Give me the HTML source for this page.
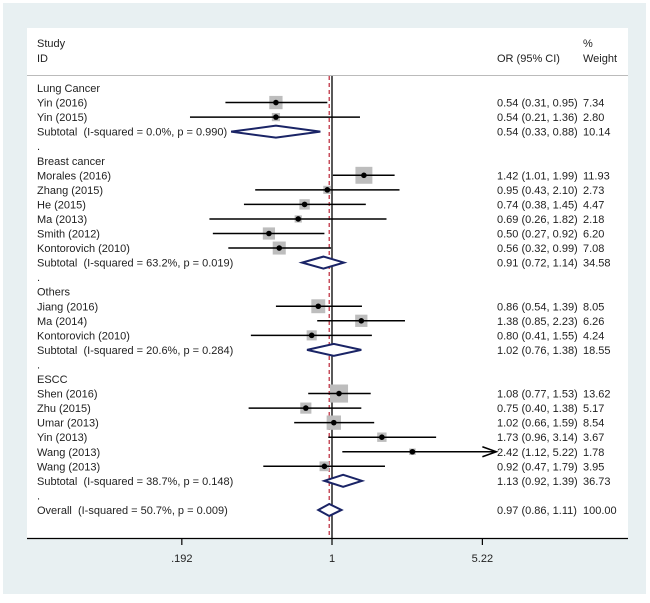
<!DOCTYPE html>
<html><head><meta charset="utf-8"><style>
body{margin:0;background:#fff;}
svg text{font-family:"Liberation Sans",Arial,sans-serif;font-size:11px;fill:#222;white-space:pre;}
</style></head><body>
<svg id="chart" width="650" height="598" xmlns="http://www.w3.org/2000/svg" xml:space="preserve">
<rect x="3" y="3" width="643" height="591" fill="#e8f0f2"/>
<rect x="27" y="28" width="601" height="510" fill="#fff"/>
<line x1="27" y1="75.5" x2="628" y2="75.5" stroke="#bbb" stroke-width="1"/>
<text x="37" y="47">Study</text>
<text x="37" y="62">ID</text>
<text x="497" y="62">OR (95% CI)</text>
<text x="583" y="47">%</text>
<text x="583" y="62">Weight</text>
<g id="rows"></g>
<line x1="27" y1="538.5" x2="628" y2="538.5" stroke="#000" stroke-width="1.3"/>
<g id="ticks"></g>
</svg>
<script>
const labels=["Lung Cancer","Yin (2016)","Yin (2015)","Subtotal  (I-squared = 0.0%, p = 0.990)",".","Breast cancer","Morales (2016)","Zhang (2015)","He (2015)","Ma (2013)","Smith (2012)","Kontorovich (2010)","Subtotal  (I-squared = 63.2%, p = 0.019)",".","Others","Jiang (2016)","Ma (2014)","Kontorovich (2010)","Subtotal  (I-squared = 20.6%, p = 0.284)",".","ESCC","Shen (2016)","Zhu (2015)","Umar (2013)","Yin (2013)","Wang (2013)","Wang (2013)","Subtotal  (I-squared = 38.7%, p = 0.148)",".","Overall  (I-squared = 50.7%, p = 0.009)"];
const kinds=["h","s","s","d","h","h","s","s","s","s","s","s","d","h","h","s","s","s","d","h","h","s","s","s","s","s","s","d","h","d"];
const ors=[null,0.54,0.54,0.54,null,null,1.42,0.95,0.74,0.69,0.50,0.56,0.91,null,null,0.86,1.38,0.80,1.02,null,null,1.08,0.75,1.02,1.73,2.42,0.92,1.13,null,0.97];
const los=[null,0.31,0.21,0.33,null,null,1.01,0.43,0.38,0.26,0.27,0.32,0.72,null,null,0.54,0.85,0.41,0.76,null,null,0.77,0.40,0.66,0.96,1.12,0.47,0.92,null,0.86];
const his=[null,0.95,1.36,0.88,null,null,1.99,2.10,1.45,1.82,0.92,0.99,1.14,null,null,1.39,2.23,1.55,1.38,null,null,1.53,1.38,1.59,3.14,5.22,1.79,1.39,null,1.11];
const weights=[null,7.34,2.80,10.14,null,null,11.93,2.73,4.47,2.18,6.20,7.08,34.58,null,null,8.05,6.26,4.24,18.55,null,null,13.62,5.17,8.54,3.67,1.78,3.95,36.73,null,100.00];
const tickVals=[0.192,1,5.22];
const tickLabels=[".192","1","5.22"];
const overall=0.97;
const NS="http://www.w3.org/2000/svg";
const X=v=>332+91*Math.log(v);
const Y=i=>88+i*14.55;
const rows=document.getElementById("rows");
function mk(tag,attrs,parent){const e=document.createElementNS(NS,tag);for(const k in attrs)e.setAttribute(k,attrs[k]);(parent||rows).appendChild(e);return e;}
let nl=mk("line",{x1:X(1),y1:76,x2:X(1),y2:538,stroke:"#000","stroke-width":1.3});


let ol=mk("line",{x1:X(overall),y1:76,x2:X(overall),y2:538,stroke:"#c03545","stroke-width":1.3,"stroke-dasharray":"4,3"});


labels.forEach((lab,i)=>{
  const y=Y(i);
  const t=mk("text",{x:37,y:y+4});t.textContent=lab;
  
  
  if(ors[i]==null)return;
  const v=mk("text",{x:497,y:y+4});v.textContent=ors[i].toFixed(2)+" ("+los[i].toFixed(2)+", "+his[i].toFixed(2)+")";
  
  
  const w=mk("text",{x:583,y:y+4});w.textContent=weights[i].toFixed(2);
  
  
  if(kinds[i]=="s"){
    const s=4.9*Math.sqrt(weights[i]);
    const b=mk("rect",{x:X(ors[i])-s/2,y:y-s/2,width:s,height:s,fill:"#bdbdbd"});
    
    
    const hiX=X(his[i]);
    const l=mk("line",{x1:X(los[i]),y1:y,x2:hiX,y2:y,stroke:"#000","stroke-width":1.5});
    
    
    if(his[i]>=5.2){
      const a=mk("path",{d:`M${hiX} ${y-5}L${hiX+14} ${y}L${hiX} ${y+5}`,fill:"none",stroke:"#000","stroke-width":1.5});
      
      
      l.setAttribute("x2",hiX+14);
    }
    const d=mk("circle",{cx:X(ors[i]),cy:y,r:2.8,fill:"#000"});
    
    
  } else {
    const p=mk("path",{d:`M${X(los[i])} ${y}L${X(ors[i])} ${y-6}L${X(his[i])} ${y}L${X(ors[i])} ${y+6}Z`,fill:"#fff",stroke:"#1a2466","stroke-width":2});
    
    
  }
});
const tg=document.getElementById("ticks");
tickVals.forEach((v,i)=>{
  const tl=mk("line",{x1:X(v),y1:538,x2:X(v),y2:545,stroke:"#000","stroke-width":1.2},tg);
  
  
  const tt=mk("text",{x:X(v),y:562,"text-anchor":"middle"},tg);tt.textContent=tickLabels[i];
  
  
});
</script>
</body></html>
